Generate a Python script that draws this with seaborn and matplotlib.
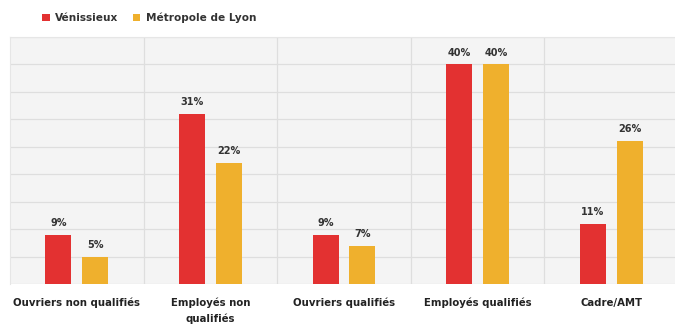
import matplotlib
matplotlib.use("Agg")
import matplotlib.pyplot as plt
import seaborn as sns
import pandas as pd

categories = ["Ouvriers non qualifiés", "Employés non\nqualifiés", "Ouvriers qualifiés",
              "Employés qualifiés", "Cadre/AMT"]
venissieux = [9, 31, 9, 40, 11]
metropole = [5, 22, 7, 40, 26]
series_names = ["Vénissieux", "Métropole de Lyon"]
colors = ["#e33131", "#efb02d"]

df = pd.DataFrame({
    "cat": categories * 2,
    "val": venissieux + metropole,
    "serie": [series_names[0]] * 5 + [series_names[1]] * 5,
})

sns.set_style("white")
plt.rcParams["font.family"] = ["DejaVu Sans"]

fig = plt.figure(figsize=(6.75, 3.24), dpi=100)
ax = fig.add_axes([10 / 675, 1 - 284 / 324, 668 / 675, 247 / 324])

sns.barplot(data=df, x="cat", y="val", hue="serie", palette=colors,
            width=0.55, gap=0.29, ax=ax, legend=True, saturation=1, linewidth=0)

ax.set_facecolor("#f4f4f4")
ax.set_ylim(0, 45)
ax.set_xlim(-0.5, 4.5)
ax.set_yticks(range(0, 46, 5))
ax.set_xticks(range(5))
ax.set_xticklabels(categories, fontsize=7.3, fontweight="bold", color="#222222",
                   linespacing=1.55)
ax.tick_params(axis="x", length=0, pad=10)
ax.tick_params(axis="y", length=0, labelleft=False)
ax.set_xlabel("")
ax.set_ylabel("")
ax.grid(axis="y", color="#dedede", linewidth=0.9)
for xv in [0.5, 1.5, 2.5, 3.5]:
    ax.axvline(xv, color="#dedede", linewidth=0.9, zorder=0)
ax.set_axisbelow(True)
for s in ["top", "right", "left"]:
    ax.spines[s].set_color("#e6e6e6")
    ax.spines[s].set_linewidth(0.8)
ax.spines["bottom"].set_visible(False)

for cont in ax.containers:
    ax.bar_label(cont, labels=[f"{int(v)}%" for v in cont.datavalues],
                 padding=5, fontsize=7.0, fontweight="bold", color="#333333")

handles, labels = ax.get_legend_handles_labels()
ax.legend(handles, labels, loc="lower left", bbox_to_anchor=(28 / 668, 1.04),
          ncol=2, frameon=False, handlelength=0.7, handleheight=0.7,
          handletextpad=0.5, columnspacing=1.4, borderaxespad=0,
          prop={"size": 7.6, "weight": "bold"}, labelcolor="#333333")

fig.savefig("out.png", dpi=100, facecolor="white")
